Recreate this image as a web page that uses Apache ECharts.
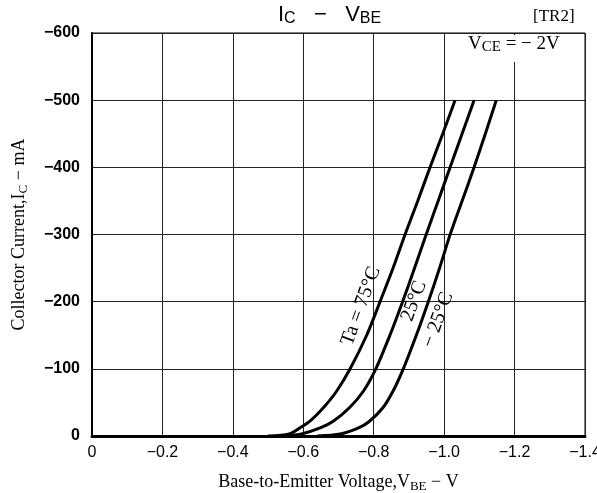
<!DOCTYPE html>
<html>
<head>
<meta charset="utf-8">
<script src="https://cdn.jsdelivr.net/npm/echarts@6/dist/echarts.min.js"></script>
<style>html,body{margin:0;padding:0;background:#fff}#c{width:597px;height:493px}</style>
</head>
<body>
<div id="c"></div>
<script>
var currentLevels = [0, -3, -12, -22, -42, -67, -100, -150, -200, -250, -300, -350, -400, -450, -500];
var vbe75 = [-0.50, -0.56, -0.59, -0.619, -0.657, -0.695, -0.733, -0.780, -0.818, -0.855, -0.889, -0.925, -0.960, -0.996, -1.031];
var vbe25 = [-0.55, -0.595, -0.648, -0.685, -0.731, -0.771, -0.806, -0.846, -0.882, -0.916, -0.949, -0.983, -1.017, -1.051, -1.085];
var vbeM25 = [-0.64, -0.705, -0.757, -0.788, -0.826, -0.855, -0.884, -0.921, -0.955, -0.987, -1.017, -1.051, -1.085, -1.117, -1.148];
var seriesNames = ['Ta=75°C', '25°C', '−25°C'];
var xTicks = ['0', '−0.2', '−0.4', '−0.6', '−0.8', '−1.0', '−1.2', '−1.4'];
var yTicks = ['0', '−100', '−200', '−300', '−400', '−500', '−600'];

function pairs(v) { return v.map(function (x, i) { return [x, currentLevels[i]]; }); }

var chart = echarts.init(document.getElementById('c'));
var serif = '"Liberation Serif", "DejaVu Serif", serif';
var sans = '"Liberation Sans", Arial, sans-serif';
var rot = 70 * Math.PI / 180;

chart.setOption({
  animation: false,
  backgroundColor: '#fff',
  grid: { left: 92, right: 12, top: 33, bottom: 57, show: true, borderColor: '#000', borderWidth: 1,
    containLabel: false, outerBoundsMode: 'none' },
  xAxis: {
    type: 'value', min: -1.4, max: 0, interval: 0.2, inverse: true,
    axisLine: { show: true, lineStyle: { color: '#000', width: 3 } },
    axisTick: { show: false },
    splitLine: { show: true, lineStyle: { color: '#222', width: 1 } },
    axisLabel: {
      color: '#000', fontFamily: sans, fontSize: 16, margin: 9,
      formatter: function (v) { return xTicks[Math.round(-v / 0.2)]; }
    },
    name: 'Base-to-Emitter Voltage,V{s|BE} − V',
    nameLocation: 'middle', nameGap: 36,
    nameTextStyle: {
      color: '#000', fontFamily: serif, fontSize: 18,
      rich: { s: { fontFamily: serif, fontSize: 13, verticalAlign: 'bottom', padding: [8, 0, 0, 0], color: '#000' } }
    }
  },
  yAxis: {
    type: 'value', min: -600, max: 0, interval: 100, inverse: true,
    axisLine: { show: true, lineStyle: { color: '#000', width: 2 } },
    axisTick: { show: false },
    splitLine: { show: true, lineStyle: { color: '#222', width: 1 } },
    axisLabel: {
      color: '#000', fontFamily: sans, fontSize: 16, fontWeight: 'bold', margin: 12,
      formatter: function (v) { return yTicks[Math.round(-v / 100)]; }
    },
    name: 'Collector Current,I{s|C} − mA',
    nameLocation: 'middle', nameGap: 62,
    nameTextStyle: {
      color: '#000', fontFamily: serif, fontSize: 18,
      rich: { s: { fontFamily: serif, fontSize: 13, verticalAlign: 'bottom', padding: [8, 0, 0, 0], color: '#000' } }
    }
  },
  series: [vbe75, vbe25, vbeM25].map(function (v, k) {
    return {
      name: seriesNames[k], type: 'line', data: pairs(v), smooth: 0.3,
      showSymbol: false, symbol: 'none',
      lineStyle: { color: '#000', width: 3 }
    };
  }),
  graphic: [
    { type: 'text', left: 278, top: 4, style: { text: 'I{s|C}   −   V{s|BE}', fill: '#000', font: '22px ' + sans,
      rich: { s: { font: '16px ' + sans, fill: '#000', padding: [8, 0, 0, 0] } } } },
    { type: 'text', left: 533, top: 8, style: { text: '[TR2]', fill: '#000', font: '17px ' + serif } },
    { type: 'rect', shape: { x: 466, y: 35, width: 117, height: 27 }, style: { fill: '#fff' }, z: 10 },
    { type: 'text', left: 468, top: 35, z: 11, style: { text: 'V{s|CE} = − 2V', fill: '#000', font: '19px ' + serif,
      rich: { s: { font: '15px ' + serif, fill: '#000', padding: [6, 0, 0, 0] } } } },
    { type: 'text', x: 361, y: 306, rotation: rot, z: 12,
      style: { text: 'Ta = 75°C', fill: '#000', font: '20px ' + serif, align: 'center', verticalAlign: 'middle' } },
    { type: 'text', x: 414, y: 301, rotation: rot, z: 12,
      style: { text: '25°C', fill: '#000', font: '20px ' + serif, align: 'center', verticalAlign: 'middle' } },
    { type: 'text', x: 438, y: 320, rotation: rot, z: 12,
      style: { text: '− 25°C', fill: '#000', font: '20px ' + serif, align: 'center', verticalAlign: 'middle' } }
  ]
});
</script>
</body>
</html>
